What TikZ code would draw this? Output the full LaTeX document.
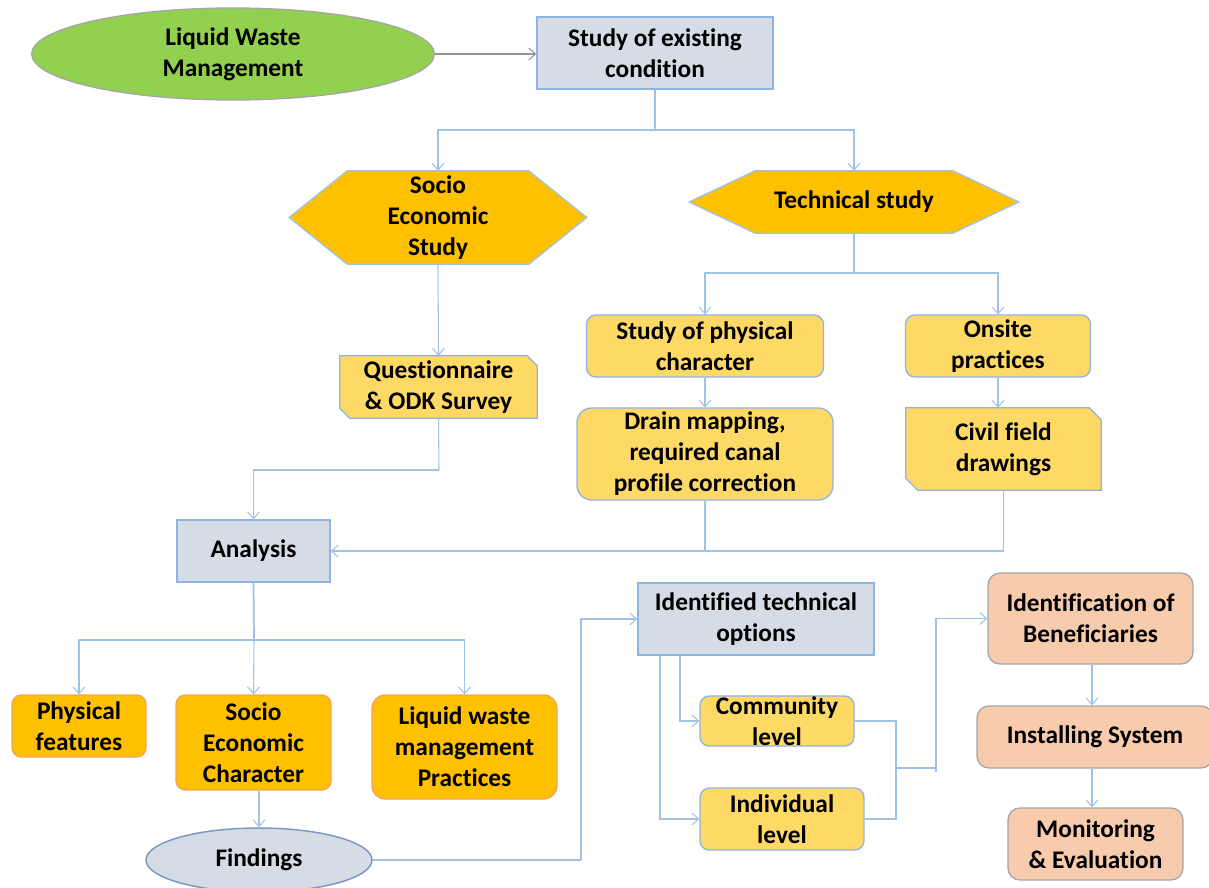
\documentclass[tikz,border=0pt]{standalone}
\usepackage{fontspec}
\setmainfont{Carlito}[Ligatures=NoCommon]
\usetikzlibrary{arrows.meta,shapes.geometric,backgrounds}
\definecolor{ln}{HTML}{9DC3E6}
\definecolor{bl}{HTML}{8EB4E3}
\definecolor{grn}{HTML}{92D050}
\definecolor{gbl}{HTML}{D6DCE5}
\definecolor{gold}{HTML}{FFC000}
\definecolor{lgold}{HTML}{FFD966}
\definecolor{peach}{HTML}{F8CBAD}
\definecolor{org}{HTML}{F5A35C}
\definecolor{gry}{HTML}{A6A6A6}
\newcommand{\hexpath}[2]{%
  \draw[hexfill] (#1.west) -- ([xshift=#2]#1.north west) -- ([xshift=-#2]#1.north east) -- (#1.east)
  -- ([xshift=-#2]#1.south east) -- ([xshift=#2]#1.south west) -- cycle;}
\newcommand{\snippath}[2]{%
  \draw[snipfill] (#1.north west) -- ([xshift=-#2]#1.north east) -- ([yshift=-#2]#1.north east)
  -- (#1.south east) -- ([xshift=#2]#1.south west) -- ([yshift=#2]#1.south west) -- cycle;}
\tikzset{
  txt/.style={align=center, inner xsep=0pt, inner ysep=0pt},
  greybox/.style={txt, rectangle, draw=bl, line width=1.1pt, fill=gbl},
  ybox/.style={txt, rectangle, rounded corners=7pt, draw=bl, line width=1pt, fill=lgold},
  obox/.style={txt, rectangle, rounded corners=7pt, draw=org, line width=1pt, fill=gold},
  pbox/.style={txt, rectangle, rounded corners=9pt, draw=gry, line width=1pt, fill=peach},
  plain/.style={txt, rectangle, draw=none},
  hexfill/.style={draw=ln, line width=1pt, fill=gold},
  snipfill/.style={draw=bl, line width=1pt, fill=lgold},
  line/.style={draw=ln, line width=0.8pt},
  arr/.style={line, -{Straight Barb[length=5pt,width=9pt]}},
  arrgray/.style={draw=gry!90!black, line width=0.8pt, -{Straight Barb[length=5pt,width=9pt]}}
}
\begin{document}
\begin{tikzpicture}[x=0.75pt,y=-0.75pt, font=\fontsize{19}{23.25}\selectfont\bfseries]
\useasboundingbox (0,0) rectangle (1209,888);
% top
\node[txt, ellipse, draw=gry, line width=1pt, fill=grn, minimum width=302pt, minimum height=69pt] (lwm) at (233,54) {Liquid Waste\\Management};
\node[greybox, minimum width=177pt, minimum height=54pt] (sec) at (655,53) {Study of existing\\condition};
\node[plain, minimum width=222.75pt, minimum height=69.75pt] (soc) at (438,217.5) {Socio\\Economic\\Study};
\node[plain, minimum width=246.75pt, minimum height=46.5pt] (tech) at (854,202) {Technical study};
\begin{pgfonlayer}{background}
\hexpath{soc}{43.5pt}
\hexpath{tech}{49.5pt}
\end{pgfonlayer}
% technical branch
\node[ybox, minimum width=177.75pt, minimum height=46.5pt] (phys) at (705,346) {Study of physical\\character};
\node[ybox, minimum width=138.75pt, minimum height=46.5pt] (onsite) at (998,346) {Onsite\\practices};
\node[ybox, rounded corners=11pt, minimum width=192pt, minimum height=69pt] (drain) at (705,454) {Drain mapping,\\required canal\\profile correction};
\node[plain, minimum width=146.25pt, minimum height=61.5pt] (civil) at (1003.5,449) {Civil field\\drawings};
% socio branch
\node[plain, minimum width=147.75pt, minimum height=46.5pt] (quest) at (438.5,387) {Questionnaire\\\& ODK Survey};
\begin{pgfonlayer}{background}
\snippath{civil}{9pt}
\snippath{quest}{7.5pt}
\end{pgfonlayer}
\node[greybox, minimum width=114.75pt, minimum height=46.5pt] (ana) at (253.5,551) {Analysis};
% bottom left
\node[obox, minimum width=100.5pt, minimum height=46.5pt] (physf) at (79,726) {Physical\\features};
\node[obox, minimum width=116.25pt, minimum height=71.25pt] (secc) at (253.5,742.5) {Socio\\Economic\\Character};
\node[obox, rounded corners=10pt, minimum width=138.75pt, minimum height=78pt] (lwmp) at (464.5,747) {Liquid waste\\management\\Practices};
\node[txt, ellipse, draw=bl!85!black, line width=1.1pt, fill=gbl, minimum width=169.5pt, minimum height=48pt] (find) at (259,860) {Findings};
% bottom right
\node[greybox, minimum width=177pt, minimum height=54pt] (ito) at (756,619) {Identified technical\\options};
\node[ybox, minimum width=115.5pt, minimum height=37.5pt] (com) at (777,721) {Community\\level};
\node[ybox, minimum width=123pt, minimum height=46.5pt] (ind) at (782,819) {Individual\\level};
\node[pbox, minimum width=153.75pt, minimum height=68.25pt] (ben) at (1090.5,618.5) {Identification of\\Beneficiaries};
\node[pbox, minimum width=177pt, minimum height=46.5pt] (inst) at (1095,737) {Installing System};
\node[pbox, minimum width=131.25pt, minimum height=54pt] (mon) at (1095.5,844) {Monitoring\\\& Evaluation};
% junctions
\coordinate (j1) at (655,130);
\coordinate (j2) at (854,273);
\coordinate (j3) at (439,470);
\coordinate (j4) at (254,640);
\coordinate (j5) at (581,860);
\coordinate (jr) at (896,768);
\coordinate (jr2) at (936,768);
\coordinate (xb) at (1092,0);
% connectors
\draw[arrgray] (lwm.east) -- (sec.west |- lwm.east);
\draw[line] (sec.south) -- (j1);
\draw[arr] (j1) -| (soc.north);
\draw[arr] (j1) -| (tech.north);
\draw[line] (tech.south) -- (j2);
\draw[arr] (j2) -| (phys.north);
\draw[arr] (j2) -| (onsite.north);
\draw[arr] (phys.south) -- (drain.north);
\draw[arr] (onsite.south) -- (onsite.south |- civil.north);
\draw[arr] (soc.south) -- (quest.north);
\draw[line] (quest.south) -- (j3);
\draw[arr] (j3) -| (ana.north);
\draw[arr] (civil.south) |- (ana.east);
\draw[line] (drain.south) -- (drain.south |- ana.east);
\draw[line, line width=1.3pt] (ana.south) -- (j4);
\draw[arr] (j4) -| (physf.north);
\draw[arr] (j4) -- (secc.north);
\draw[arr] (j4) -| (lwmp.north);
\draw[arr] (secc.south -| find.north) -- (find.north);
\draw[line] (find.east) -- (j5);
\draw[arr] (j5) |- (ito.west);
\draw[arr] ([xshift=-72pt]ito.south) |- (ind.west);
\draw[arr] ([xshift=-57pt]ito.south) |- (com.west);
\draw[line] (com.east) -| (jr);
\draw[line] (ind.east) -| (jr);
\draw[line] (jr) -- (jr2);
\draw[line] (jr2) -- ++(0,4);
\draw[arr] (jr2) |- (ben.west);
\draw[arr] (ben.south -| xb) -- (inst.north -| xb);
\draw[arr] (inst.south -| xb) -- (mon.north -| xb);
\end{tikzpicture}
\end{document}
